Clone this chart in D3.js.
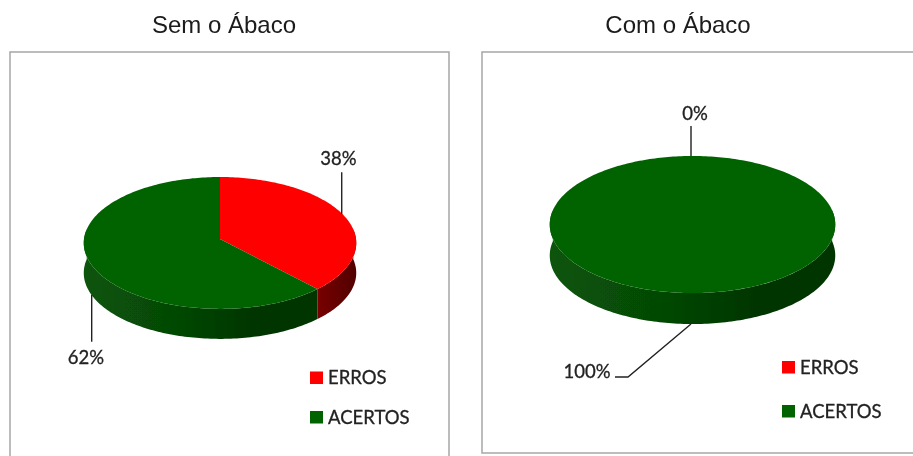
<!DOCTYPE html>
<html><head><meta charset="utf-8">
<script src="https://cdnjs.cloudflare.com/ajax/libs/d3/7.8.5/d3.min.js"></script>
<style>html,body{margin:0;padding:0;background:#fff;overflow:hidden}svg{display:block}</style>
</head><body><svg id="c" width="913" height="456"></svg>
<script>
const categories = ["ERROS", "ACERTOS"];
const titles = ["Sem o Ábaco", "Com o Ábaco"];
const valuesSem = [38, 62];
const valuesCom = [0, 100];
const colors = ["#ff0000", "#056405"];

const svg = d3.select("#c");
const defs = svg.append("defs");
defs.append("filter").attr("id","soft")
  .attr("filterUnits","userSpaceOnUse").attr("x",0).attr("y",0).attr("width",913).attr("height",456)
  .append("feGaussianBlur").attr("stdDeviation",0.5);

function sideGradient(id, stops){
  const g = defs.append("linearGradient").attr("id",id).attr("x1",0).attr("x2",1).attr("y1",0).attr("y2",0);
  stops.forEach(s=>g.append("stop").attr("offset",s[0]).attr("stop-color",s[1]));
}
sideGradient("gside0",[[0,"#085408"],[0.35,"#064a06"],[0.75,"#023402"],[1,"#033603"]]);
sideGradient("gside1",[[0,"#780000"],[1,"#520000"]]);
const root = svg.append("g").attr("filter","url(#soft)");

const persp = -0.06; // foreshortening of the tilted disc
const layouts = [
 {values:valuesSem,title:titles[0],tx:224,frame:[10,52,439,440],cx:220,cy:239,rx:136,ry:65.7,depth:30,
  labels:[{i:0,tx:338.5,ty:165,dx:-2,dy:-1,top:true,end:-42},{i:1,tx:86,ty:364,dx:1,dy:1,end:47}],legend:[310,371.5,39.5],gidx:0},
 {values:valuesCom,title:titles[1],tx:678,frame:[482,52,440,401],cx:692.5,cy:220.4,rx:142.5,ry:68.3,depth:31,
  labels:[{i:0,tx:695,ty:120,dx:-1.5,dy:0,top:true,end:-30},{i:1,tx:587,ty:378,dx:-1.5,dy:0,elbow:[-63,53,-76,53]}],legend:[782,361,44],gidx:1}
];

layouts.forEach(p=>{
  const g = root.append("g");
  g.append("text").attr("x",p.tx).attr("y",33).attr("text-anchor","middle")
    .attr("font-family","Liberation Sans").attr("font-size",24).attr("fill","#1a1a1a").text(p.title);
  g.append("rect").attr("x",p.frame[0]).attr("y",p.frame[1]).attr("width",p.frame[2]).attr("height",p.frame[3])
    .attr("fill","#fff").attr("stroke","#a6a6a6").attr("stroke-width",1.5);

  const arcs = d3.pie().sort(null).value(d=>d)(p.values);
  const W = a=>1-persp*Math.cos(a);
  const X = a=>p.cx+p.rx*Math.sin(a)/W(a), Y = a=>p.cy-p.ry*Math.cos(a)/W(a);

  // side wall under the rim; the part hidden behind the top face is painted over
  arcs.forEach((a,i)=>{
    const s=Math.max(a.startAngle,Math.PI/2-0.15), e=Math.min(a.endAngle,3*Math.PI/2+0.15);
    if(e<=s) return;
    const ang=d3.range(s,e,0.02).concat([e]);
    const area=d3.area().x(t=>X(t)).y0(t=>Y(t)).y1(t=>Y(t)+p.depth);
    g.append("path").attr("d",area(ang))
     .attr("fill",i===1?"url(#gside0)":"url(#gside1)");
  });

  // top face, projected from the pie angles
  arcs.forEach((a,i)=>{
    if(a.endAngle<=a.startAngle) return;
    const ang=d3.range(a.startAngle,a.endAngle,0.02).concat([a.endAngle]);
    const pts=[[p.cx,p.cy]].concat(ang.map(t=>[X(t),Y(t)]));
    g.append("path").attr("d",d3.line()(pts)+"Z").attr("fill",colors[i]);
  });

  // leader lines & labels
  p.labels.forEach(l=>{
    const a=arcs[l.i], mid=(a.startAngle+a.endAngle)/2;
    let x0=X(mid)+l.dx, y0=Y(mid)+l.dy+(l.top?0:p.depth);
    const pts = l.elbow ? [[x0,y0],[x0+l.elbow[0],y0+l.elbow[1]],[x0+l.elbow[2],y0+l.elbow[3]]]
                        : [[x0,y0],[x0,y0+l.end]];
    g.append("path").attr("d",d3.line()(pts)).attr("fill","none").attr("stroke","#222").attr("stroke-width",1.4);
    g.append("text").attr("x",l.tx).attr("y",l.ty).attr("text-anchor","middle")
      .attr("font-family","Lato").attr("font-size",18.5).attr("fill","#222")
      .attr("stroke","#222").attr("stroke-width",0.3).text(Math.round(p.values[l.i])+"%");
  });

  // legend
  categories.forEach((c,i)=>{
    const y=p.legend[1]+i*p.legend[2];
    g.append("rect").attr("x",p.legend[0]).attr("y",y).attr("width",13).attr("height",12.5).attr("fill",colors[i]);
    g.append("text").attr("x",p.legend[0]+18).attr("y",y+12.5)
      .attr("font-family","Lato").attr("font-size",18.5).attr("fill","#222")
      .attr("stroke","#222").attr("stroke-width",0.3).text(c);
  });
});
</script></body></html>
